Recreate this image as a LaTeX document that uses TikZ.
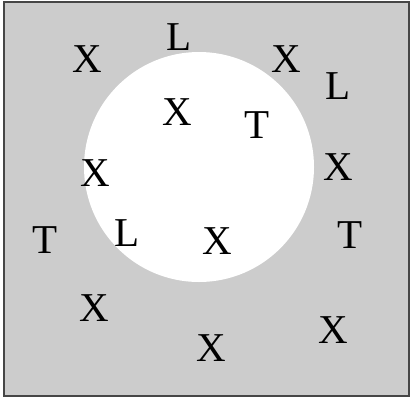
\documentclass[tikz,border=0pt]{standalone}
\usepackage{fontspec}
\setmainfont{Liberation Serif}
\usepackage{tikz}
\usepackage{xcolor}
\usetikzlibrary{positioning}
\definecolor{cField}{RGB}{204,204,204}
\definecolor{cFrame}{RGB}{70,70,70}
\tikzset{
	glyph/.style ={inner sep=0pt, font=\fontsize{41}{41}\selectfont, text=black},
	frame/.style ={fill=cField, draw=cFrame, line width=1.5pt},
	hole/.style  ={fill=white, draw=none},
}

\begin{document}
\begin{tikzpicture}[x=1pt, y=-1pt]
	\useasboundingbox (0,0) rectangle (411,399);
	\draw[frame] (4,2) rectangle (409,396);
	\fill[hole] (199,167) circle (115);
	% outer ring
	\node[glyph] (x1) at (87,59) {X};
	\node[glyph] (l1) at (179,37) {L};
	\node[glyph] (x2) at (286,59) {X};
	\node[glyph] (l2) at (338,86) {L};
	\node[glyph] (x3) at (338,167) {X};
	\node[glyph] (t1) at (350,235) {T};
	\node[glyph] (x4) at (333,330) {X};
	\node[glyph] (x5) at (211,348) {X};
	\node[glyph] (x6) at (94,308) {X};
	\node[glyph] (t2) at (45,240) {T};
	\node[glyph] (x7) at (95,173) {X};
	% inside the hole
	\node[glyph] (x8) at (177,112) {X};
	\node[glyph] (t3) at (257,125) {T};
	\node[glyph] (l3) at (127,233) {L};
	\node[glyph] (x9) at (217,241) {X};
\end{tikzpicture}
\end{document}
